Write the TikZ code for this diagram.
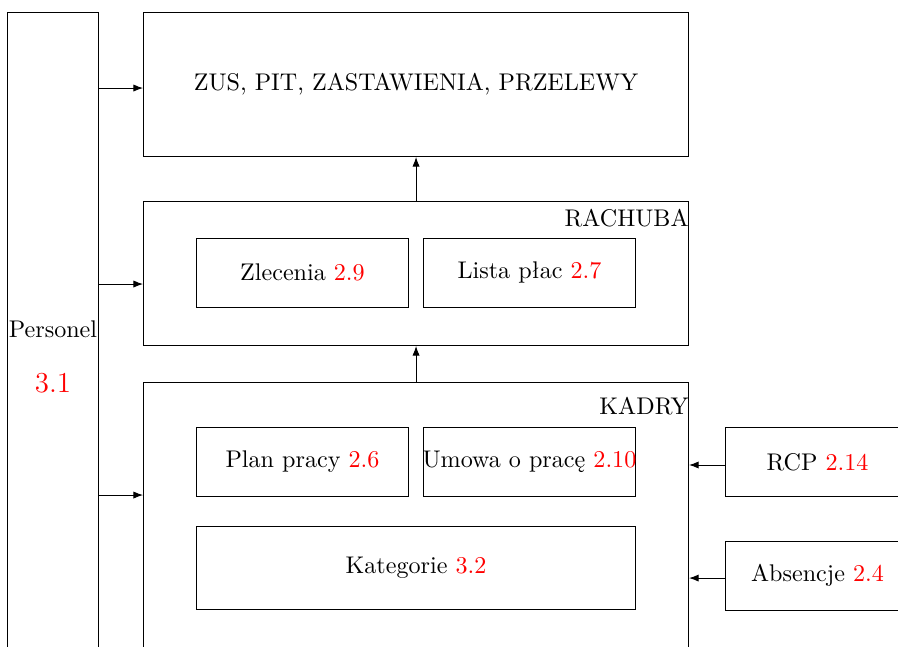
\documentclass[tikz,border=0pt]{standalone}
\usepackage{fontspec}
\usepackage{tikz}
\usetikzlibrary{arrows.meta}

\begin{document}
\begin{tikzpicture}[>={Latex[length=4pt,width=3pt]}]
  % Local definitions
  \def\nr#1{{\color{red}#1}}
  \def\groupwidth{7.945cm}
  \def\smallwidth{3.09cm}

  % Styles
  \tikzstyle{box}=[draw,rectangle,anchor=north west,inner sep=0pt,align=center]
  \tikzstyle{group box}=[box,minimum width=\groupwidth]
  \tikzstyle{small box}=[box,minimum width=\smallwidth,minimum height=1.0cm]
  \tikzstyle{group label}=[anchor=north east,inner xsep=0pt]

  % The frame
  \useasboundingbox (0,0) rectangle (13.09,-9.417);
  \clip (0,0) rectangle (13.09,-9.417);

  % Personel
  \node[box,minimum width=1.327cm,minimum height=10.03cm] (personel) at (0.102,-0.175)
    {Personel\\[10.8pt]{\large\nr{3.1}}};

  % Groups
  \node[group box,minimum height=2.099cm] (zus)     at (2.085,-0.175) {ZUS, PIT, ZASTAWIENIA, PRZELEWY};
  \node[group box,minimum height=2.099cm] (rachuba) at (2.085,-2.930) {};
  \node[group box,minimum height=4.05cm]  (kadry)   at (2.085,-5.569) {};
  \node[group label] (rachubaLabel) at (rachuba.north east) {RACHUBA};
  \node[group label,yshift=-0.09cm] (kadryLabel) at (kadry.north east) {KADRY};

  % Inner boxes
  \node[small box] (zlecenia) at (2.857,-3.469) {Zlecenia \nr{2.9}};
  \node[small box] (lista)    at (6.166,-3.469) {Lista płac \nr{2.7}};
  \node[small box] (plan)     at (2.857,-6.224) {Plan pracy \nr{2.6}};
  \node[small box] (umowa)    at (6.166,-6.224) {\makebox[0pt]{Umowa o pracę \nr{2.10}}};
  \node[box,minimum width=6.399cm,minimum height=1.21cm] (kategorie) at (2.857,-7.668) {Kategorie \nr{3.2}};

  % Inputs
  \node[small box,minimum width=2.68cm] (rcp)      at (10.569,-6.224) {RCP \nr{2.14}};
  \node[small box,minimum width=2.68cm] (absencje) at (10.569,-7.886) {Absencje \nr{2.4}};

  % Arrows
  \coordinate (inZ) at (2.085,-1.283);
  \coordinate (inR) at (2.085,-4.140);
  \coordinate (inK) at (2.085,-7.216);
  \coordinate (outRcp) at (10.569,-6.778);
  \coordinate (outAbs) at (10.569,-8.426);

  \draw[->] (personel.east |- inZ) -- (inZ);
  \draw[->] (personel.east |- inR) -- (inR);
  \draw[->] (personel.east |- inK) -- (inK);
  \draw[->] (rachuba.north) -- (zus.south);
  \draw[->] (kadry.north) -- (rachuba.south);
  \draw[->] (outRcp) -- (outRcp -| kadry.east);
  \draw[->] (outAbs) -- (outAbs -| kadry.east);
\end{tikzpicture}
\end{document}
